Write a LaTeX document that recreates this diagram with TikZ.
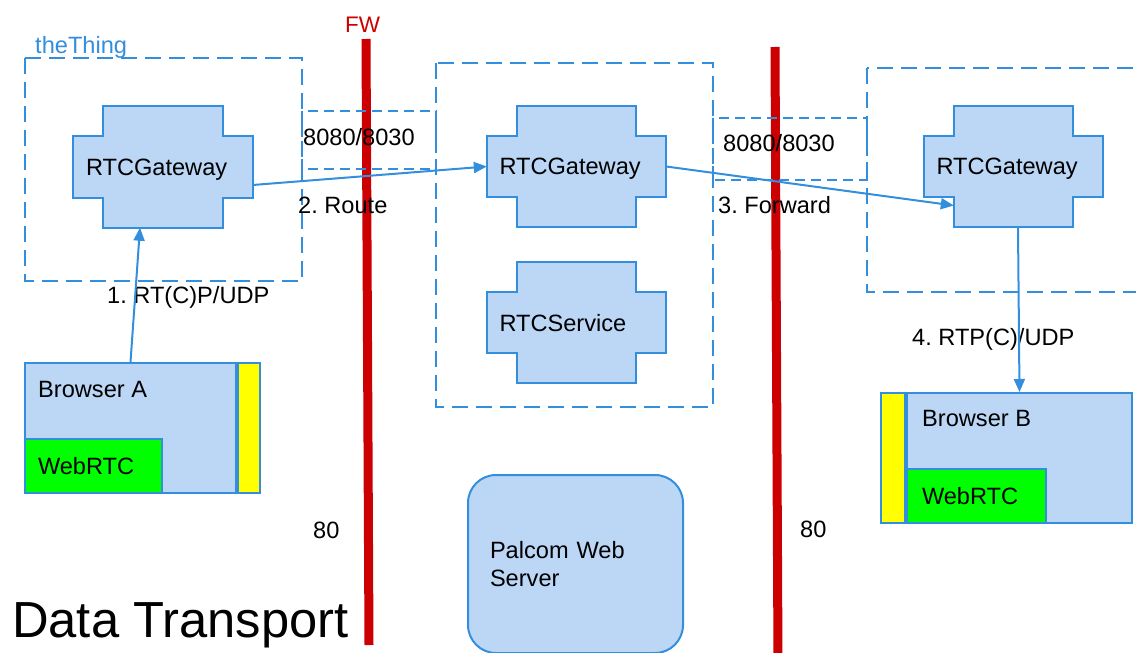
\documentclass[tikz,border=0pt]{standalone}
\usepackage{fontspec}
\setmainfont{Liberation Sans}
\usetikzlibrary{arrows.meta,backgrounds}
\frenchspacing

\definecolor{boxfill}{RGB}{187,215,245}
\definecolor{boxline}{RGB}{52,142,222}
\definecolor{fwred}{RGB}{204,0,0}
\definecolor{webgreen}{RGB}{0,255,0}
\definecolor{baryellow}{RGB}{255,255,0}

\newcommand{\labelfont}{\fontsize{23.6}{28}\selectfont}

% cross shaped outline behind a gateway / service node
\newcommand{\gatecross}[1]{%
  \begin{scope}[on background layer]
    \draw[boxline,fill=boxfill,line width=2.2pt]
      ([xshift=30pt]#1.north west) -- ([xshift=-30pt]#1.north east)
      -- ([xshift=-30pt,yshift=-30pt]#1.north east) -- ([yshift=-30pt]#1.north east)
      -- ([yshift=30pt]#1.south east) -- ([xshift=-30pt,yshift=30pt]#1.south east)
      -- ([xshift=-30pt]#1.south east) -- ([xshift=30pt]#1.south west)
      -- ([xshift=30pt,yshift=30pt]#1.south west) -- ([yshift=30pt]#1.south west)
      -- ([yshift=-30pt]#1.north west) -- ([xshift=30pt,yshift=-30pt]#1.north west)
      -- cycle;
  \end{scope}}

\tikzset{
  txt/.style={font=\labelfont,inner sep=0pt,anchor=base west},
  gate/.style={minimum width=179pt,minimum height=121pt,inner sep=0pt,
    text width=154pt,text depth=0pt,align=left,font=\labelfont},
  zone/.style={draw=boxline,line width=2pt,dash pattern=on 16pt off 8pt},
  port/.style={draw=boxline,line width=2pt,dash pattern=on 10pt off 6pt},
  wall/.style={draw=fwred,line width=9pt},
  link/.style={draw=boxline,line width=2pt,-{Triangle[length=13pt,width=11pt]}},
  browser/.style={draw=boxline,fill=boxfill,line width=2pt,
    minimum width=#1,minimum height=130pt,inner sep=0pt},
  bar/.style={draw=boxline,fill=baryellow,line width=2pt,
    minimum width=#1,minimum height=130pt,inner sep=0pt},
  web/.style={draw=boxline,fill=webgreen,line width=2pt,font=\labelfont,
    minimum height=54pt,inner ysep=0pt,align=left},
}

\begin{document}
\begin{tikzpicture}[x=1pt,y=-1pt]
  \useasboundingbox (0,0) rectangle (1136,653);

  % firewalls
  \coordinate (fw1a) at (366,39);
  \coordinate (fw1b) at (369,645);
  \coordinate (fw2a) at (775,47);
  \coordinate (fw2b) at (778,660);
  \draw[wall] (fw1a) -- (fw1b);
  \draw[wall] (fw2a) -- (fw2b);

  % zones and ports
  \draw[zone] (25,58)  rectangle (302,281);
  \draw[port] (302,111) rectangle (436,169);
  \draw[zone] (436,63) rectangle (713,407);
  \draw[port] (713,118) rectangle (867,180);
  \draw[zone] (867,68) rectangle (1160,292);

  \path
  (163,167)     node[gate](gwL)   {RTCGateway}
  (576.5,166.5) node[gate](gwM)   {RTCGateway}
  (1013.5,166.5) node[gate](gwR)  {RTCGateway}
  (576.5,322.5) node[gate](svc)   {RTCService}

  (130.5,428)   node[browser=211pt](brA) {}
  (1019.5,458)  node[browser=225pt](brB) {}

  (575.5,564)   node[draw=boxline,fill=boxfill,line width=2pt,rounded corners=28pt,
                     minimum width=215pt,minimum height=178pt,inner sep=0pt,
                     text width=171pt,align=left,font=\labelfont](srv) {Palcom Web\\Server}
  ;

  \gatecross{gwL}
  \gatecross{gwM}
  \gatecross{gwR}
  \gatecross{svc}

  \node[bar=22pt,anchor=west] (barA) at (brA.east) {};
  \node[bar=24pt,anchor=east] (barB) at (brB.west) {};
  \node[web,anchor=south west,text width=111pt,inner xsep=13pt] (webA) at (brA.south west) {WebRTC};
  \node[web,anchor=south west,text width=109pt,inner xsep=15pt] (webB) at (brB.south west) {WebRTC};

  \path
  (345,32)  node[txt,font=\fontsize{22.5}{26}\selectfont,text=fwred](fw)  {FW}
  (35,53)   node[txt,text=boxline](thing)  {theThing}
  (303,145) node[txt](portL)  {8080/8030}
  (723,151) node[txt](portR)  {8080/8030}
  (298,213) node[txt](route)  {2. Route}
  (718,213) node[txt](fwd)    {3. Forward}
  (107,303) node[txt](rtpA)   {1. RT(C)P/UDP}
  (912,345) node[txt](rtpB)   {4. RTP(C)/UDP}
  (38,397)  node[txt](nameA)  {Browser A}
  (922,426) node[txt](nameB)  {Browser B}
  (313,538) node[txt](webL)   {80}
  (800,537) node[txt](webR)   {80}
  (12,637)  node[txt,font=\fontsize{50.7}{58}\selectfont](title) {Data Transport}
  ;

  \draw[link] (brA.north) -- ([xshift=-23pt]gwL.south);
  \draw[link] ([yshift=-18pt]gwL.east) -- (gwM.west);
  \draw[link] (gwM.east) -- ([xshift=30pt,yshift=-39pt]gwR.west);
  \draw[link] ([xshift=4.5pt]gwR.south) -- (brB.north);

\end{tikzpicture}
\end{document}
